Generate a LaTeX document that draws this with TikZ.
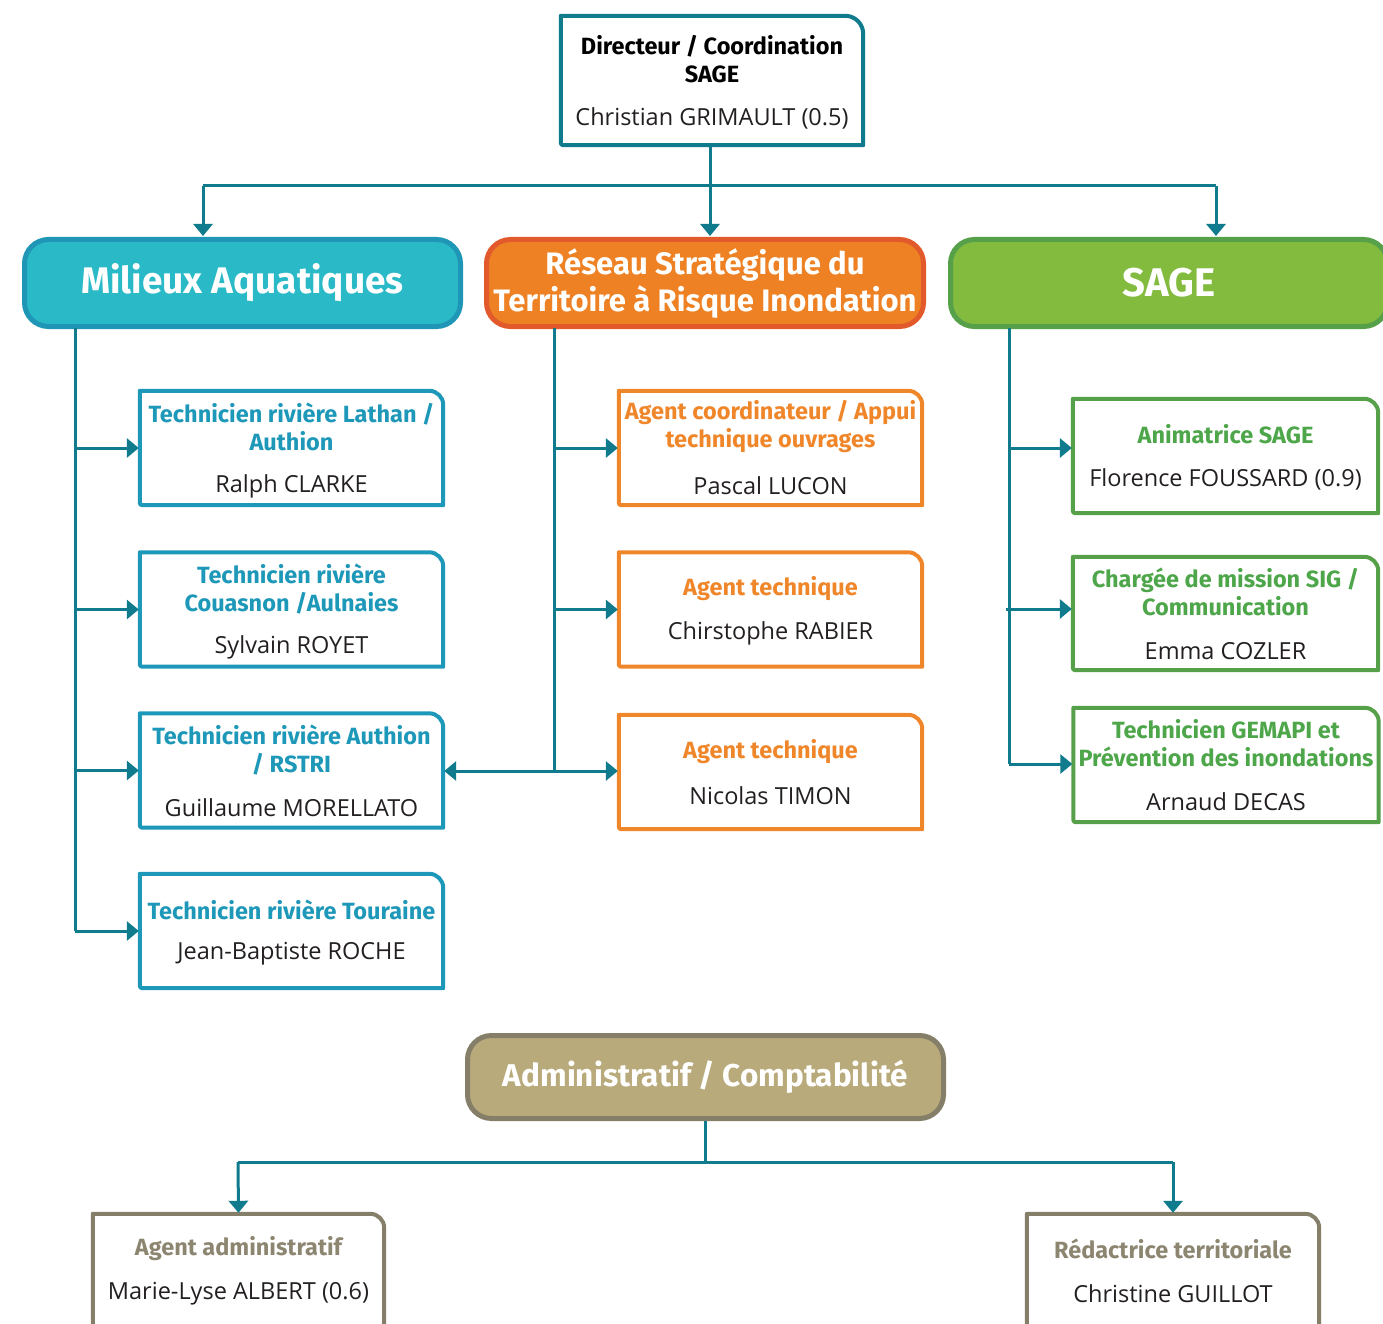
\documentclass[tikz,border=0pt]{standalone}
\usepackage{fontspec}
\setmainfont{Open Sans}
\newfontfamily\hf{Fira Sans}
\usetikzlibrary{arrows.meta,calc}
\definecolor{conn}{HTML}{0F7B8D}
\definecolor{milfill}{HTML}{29B9C7}
\definecolor{milborder}{HTML}{1F96B5}
\definecolor{bluetext}{HTML}{1E98B8}
\definecolor{orfill}{HTML}{EE8123}
\definecolor{orborder}{HTML}{E25A2B}
\definecolor{ortext}{HTML}{F0862A}
\definecolor{grfill}{HTML}{83BB3F}
\definecolor{grborder}{HTML}{57A04A}
\definecolor{grtext}{HTML}{4EA64A}
\definecolor{adfill}{HTML}{B9AA7B}
\definecolor{adborder}{HTML}{857F6A}
\definecolor{adtext}{HTML}{8C8570}
\definecolor{nametext}{HTML}{231F20}
\newcommand\tbox[3][14pt]{%
  \draw[line width=4pt,#3,line join=round] (#2.north west) -- ([xshift=-#1]#2.north east) .. controls ([xshift=-0.45*#1]#2.north east) and ([yshift=-0.45*#1]#2.north east) .. ([yshift=-#1]#2.north east) -- (#2.south east) -- ([xshift=5pt]#2.south west) .. controls (#2.south west) .. ([yshift=5pt]#2.south west) -- cycle;}
\tikzset{
  frame/.style={inner sep=0pt, draw=none},
  head/.style={draw, rounded corners=24pt, line width=5pt, inner sep=0pt, text=white, align=center, font=\hf\bfseries\fontsize{37}{38}\selectfont},
  ttl/.style={align=center, inner sep=0pt, font=\hf\bfseries\fontsize{23.5}{28}\selectfont},
  nm/.style={inner sep=0pt, text=nametext, font=\fontsize{23.5}{26}\selectfont},
  ln/.style={line width=3pt, conn},
  arr/.style={line width=3pt, conn, -{Triangle[length=12pt,width=19pt]}, shorten >=1pt},
}
\begin{document}
\begin{tikzpicture}[x=1pt,y=-1pt]
\useasboundingbox (0,0) rectangle (1383,1324);
% director
\node[frame, minimum width=302pt, minimum height=129pt] (dir) at (712,80.5) {};
\tbox[18pt]{dir}{conn}
\node[ttl, text=black] (dirt) at (712,59) {Directeur / Coordination\\SAGE};
\node[nm] (dirn) at (712,118) {Christian GRIMAULT (0.5)};
% headers
\node[head, fill=milfill, draw=milborder, minimum width=436pt, minimum height=87pt] (mil) at (242.5,283) {Milieux Aquatiques};
\node[head, fill=orfill, draw=orborder, minimum width=437pt, minimum height=87pt, font=\hf\bfseries\fontsize{31}{37}\selectfont] (rst) at (705,283) {Réseau Stratégique du\\Territoire à Risque Inondation};
\node[head, fill=grfill, draw=grborder, minimum width=437pt, minimum height=87pt, font=\hf\bfseries\fontsize{40}{40}\selectfont] (sage) at (1169,283) {SAGE};
\node[head, fill=adfill, draw=adborder, minimum width=476pt, minimum height=83pt, font=\hf\bfseries\fontsize{31.5}{37}\selectfont] (adm) at (705.5,1077) {Administratif / Comptabilité};
% top connectors
\coordinate (jt) at (710,186);
\coordinate (jl) at (203,186);
\coordinate (jr) at (1216,186);
\draw[ln] (jt |- dir.south) -- (jt);
\draw[ln] (jl) -- (jr);
\draw[arr] (jl) -- (jl |- mil.north);
\draw[arr] (jt) -- (jt |- rst.north);
\draw[arr] (jr) -- (jr |- sage.north);
% left column
\node[frame, minimum width=303pt, minimum height=114pt] (l1) at (291.5,448) {};
\node[frame, minimum width=303pt, minimum height=114pt] (l2) at (291.5,609.5) {};
\node[frame, minimum width=303pt, minimum height=114pt] (l3) at (291.5,770.5) {};
\node[frame, minimum width=303pt, minimum height=114pt] (l4) at (291.5,931) {};
\tbox{l1}{bluetext}\tbox{l2}{bluetext}\tbox{l3}{bluetext}\tbox{l4}{bluetext}
\node[ttl, text=bluetext] (l1t) at (291.5,427) {Technicien rivière Lathan /\\Authion};
\node[nm] (l1n) at (291.5,486) {Ralph CLARKE};
\node[ttl, text=bluetext] (l2t) at (291.5,589) {Technicien rivière\\Couasnon /Aulnaies};
\node[nm] (l2n) at (291.5,647) {Sylvain ROYET};
\node[ttl, text=bluetext] (l3t) at (291.5,750) {Technicien rivière Authion\\/ RSTRI};
\node[nm] (l3n) at (291.5,808) {Guillaume MORELLATO};
\node[ttl, text=bluetext] (l4t) at (291.5,910) {Technicien rivière Touraine};
\node[nm] (l4n) at (291.5,954) {Jean-Baptiste ROCHE};
\coordinate (lt) at (75,328);
\coordinate (lb) at (75,931);
\draw[ln] (lt) -- (lb);
\draw[arr] (l1.west -| lt) -- (l1.west);
\draw[arr] (l2.west -| lt) -- (l2.west);
\draw[arr] (l3.west -| lt) -- (l3.west);
\draw[arr] (lb) -- (l4.west);
% middle column
\node[frame, minimum width=303pt, minimum height=114pt] (m1) at (770.5,448) {};
\node[frame, minimum width=303pt, minimum height=114pt] (m2) at (770.5,609.5) {};
\node[frame, minimum width=303pt, minimum height=114pt] (m3) at (770.5,772) {};
\tbox{m1}{ortext}\tbox{m2}{ortext}\tbox{m3}{ortext}
\node[ttl, text=ortext] (m1t) at (770.5,427) {Agent coordinateur / Appui\\technique ouvrages};
\node[nm] (m1n) at (770.5,486) {Pascal LUCON};
\node[ttl, text=ortext] (m2t) at (770.5,589) {Agent technique};
\node[nm] (m2n) at (770.5,633) {Chirstophe RABIER};
\node[ttl, text=ortext] (m3t) at (770.5,752) {Agent technique};
\node[nm] (m3n) at (770.5,796) {Nicolas TIMON};
\coordinate (mt) at (554,328);
\coordinate (mb) at (554,771);
\draw[ln] (mt) -- (mb);
\draw[arr] (m1.west -| mt) -- (m1.west);
\draw[arr] (m2.west -| mt) -- (m2.west);
\draw[arr] (mb) -- (mb -| m3.west);
\draw[arr] (mb) -- (mb -| l3.east);
% right column
\node[frame, minimum width=305pt, minimum height=114pt] (r1) at (1225.5,456) {};
\node[frame, minimum width=305pt, minimum height=113pt] (r2) at (1225.5,613.5) {};
\node[frame, minimum width=305pt, minimum height=114pt] (r3) at (1226,765) {};
\tbox{r1}{grborder}\tbox{r2}{grborder}\tbox{r3}{grborder}
\node[ttl, text=grtext] (r1t) at (1225.5,434) {Animatrice SAGE};
\node[nm] (r1n) at (1225.5,479) {Florence FOUSSARD (0.9)};
\node[ttl, text=grtext] (r2t) at (1225.5,592) {Chargée de mission SIG /\\Communication};
\node[nm] (r2n) at (1225.5,651) {Emma COZLER};
\node[ttl, text=grtext] (r3t) at (1226,743) {Technicien GEMAPI et\\Prévention des inondations};
\node[nm] (r3n) at (1226,802) {Arnaud DECAS};
\coordinate (rt) at (1009,328);
\coordinate (rb) at (1009,764);
\coordinate (r1a) at (1009,448);
\coordinate (r2a) at (1006,609);
\draw[ln] (rt) -- (rb);
\draw[arr] (r1a) -- (r1a -| r1.west);
\draw[arr] (r2a) -- (r2a -| r2.west);
\draw[arr] (rb) -- (rb -| r3.west);
% admin
\node[frame, minimum width=291pt, minimum height=114pt] (b1) at (238.5,1271) {};
\node[frame, minimum width=292pt, minimum height=114pt] (b2) at (1173,1271) {};
\tbox{b1}{adborder}\tbox{b2}{adborder}
\node[ttl, text=adtext] (b1t) at (238.5,1249) {Agent administratif};
\node[nm] (b1n) at (238.5,1294) {Marie-Lyse ALBERT (0.6)};
\node[ttl, text=adtext] (b2t) at (1173,1249) {Rédactrice territoriale};
\node[nm] (b2n) at (1173,1294) {Christine GUILLOT};
\coordinate (ja) at (705,1162);
\coordinate (jal) at (238,1162);
\coordinate (jar) at (1173,1162);
\draw[ln] (ja |- adm.south) -- (ja);
\draw[ln] (jal) -- (jar);
\draw[arr] (jal) -- (b1.north);
\draw[arr] (jar) -- (b2.north);
\end{tikzpicture}
\end{document}
